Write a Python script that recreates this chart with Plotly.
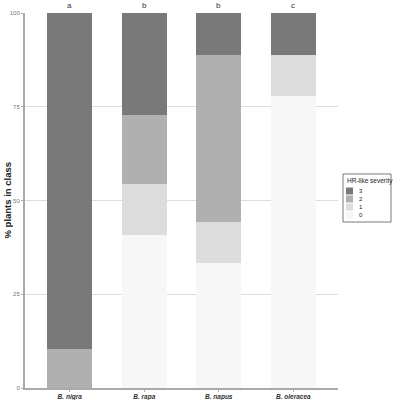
import plotly.graph_objects as go

species = ["B. nigra", "B. rapa", "B. napus", "B. oleracea"]
letters = ["a", "b", "b", "c"]
severity = ["0", "1", "2", "3"]
sev0 = [0.0, 40.9, 33.3, 77.8]
sev1 = [0.0, 13.6, 11.1, 11.1]
sev2 = [10.5, 18.2, 44.4, 0.0]
sev3 = [89.5, 27.3, 11.2, 11.1]
colors = ["#f7f7f7", "#dcdcdc", "#b0b0b0", "#797979"]

W, H = 396, 400
L, R, T, B = 25, 58, 13, 12

fig = go.Figure()
for name, vals, col in zip(severity, [sev0, sev1, sev2, sev3], colors):
    fig.add_trace(go.Bar(x=species, y=vals, name=name, marker=dict(color=col, line=dict(width=0)),
                         width=0.6, showlegend=False, hoverinfo="skip"))

for sp, lt in zip(species, letters):
    fig.add_annotation(x=sp, y=100, text=lt, showarrow=False, yanchor="bottom", yshift=1,
                       font=dict(size=8, color="#333333"))

# y-axis title as annotation
fig.add_annotation(xref="paper", yref="paper", x=-(L - 7) / (W - L - R), y=0.5,
                   text="<b>% plants in class</b>", textangle=-90, showarrow=False,
                   xanchor="center", yanchor="middle", font=dict(size=9.5, color="#222222"))

# manual legend
pw, ph = W - L - R, H - T - B
def px_x(x):
    return (x - L) / pw
def px_y(y):
    return (H - B - y) / ph

fig.add_shape(type="rect", xref="paper", yref="paper",
              x0=px_x(343), x1=px_x(391), y0=px_y(222), y1=px_y(174),
              line=dict(color="#555555", width=0.8), fillcolor="white")
fig.add_annotation(xref="paper", yref="paper", x=px_x(344.5), y=px_y(181), text="HR-like severity",
                   showarrow=False, xanchor="left", yanchor="middle",
                   font=dict(size=6.5, color="#222222"))
for i, (name, col) in enumerate(reversed(list(zip(severity, colors)))):
    yc = 191 + 8 * i
    fig.add_shape(type="rect", xref="paper", yref="paper",
                  x0=px_x(346), x1=px_x(353), y0=px_y(yc + 3.5), y1=px_y(yc - 3.5),
                  line=dict(width=0), fillcolor=col)
    fig.add_annotation(xref="paper", yref="paper", x=px_x(357), y=px_y(yc), text=name,
                       showarrow=False, xanchor="left", yanchor="middle",
                       font=dict(size=6, color="#222222"))

fig.update_layout(
    barmode="stack",
    width=W, height=H,
    margin=dict(l=L, r=R, t=T, b=B, autoexpand=False),
    plot_bgcolor="white", paper_bgcolor="white",
    font=dict(family="Liberation Sans, Arial, sans-serif", size=7, color="#444444"),
    showlegend=False,
    hovermode=False,
    xaxis=dict(
        automargin=False,
        range=[-0.6, 3.6],
        showline=True, linecolor="#aaaaaa", linewidth=1.5,
        ticks="outside", ticklen=2, tickcolor="#aaaaaa",
        tickfont=dict(size=6.5, color="#333333"),
        tickvals=species, ticktext=["<b><i>" + s + "</i></b>" for s in species],
        showgrid=False,
    ),
    yaxis=dict(
        automargin=False,
        range=[0, 100], tickvals=[0, 25, 50, 75, 100],
        showline=True, linecolor="#aaaaaa", linewidth=2,
        ticks="outside", ticklen=2, tickcolor="#aaaaaa",
        tickfont=dict(size=6, color="#777777"),
        showgrid=True, gridcolor="#dddddd", gridwidth=1,
        zeroline=False,
    ),
)

fig.write_html("out.html", config={"displayModeBar": False, "staticPlot": True},
               post_script="document.body.style.margin='0';document.body.style.overflow='hidden';")
